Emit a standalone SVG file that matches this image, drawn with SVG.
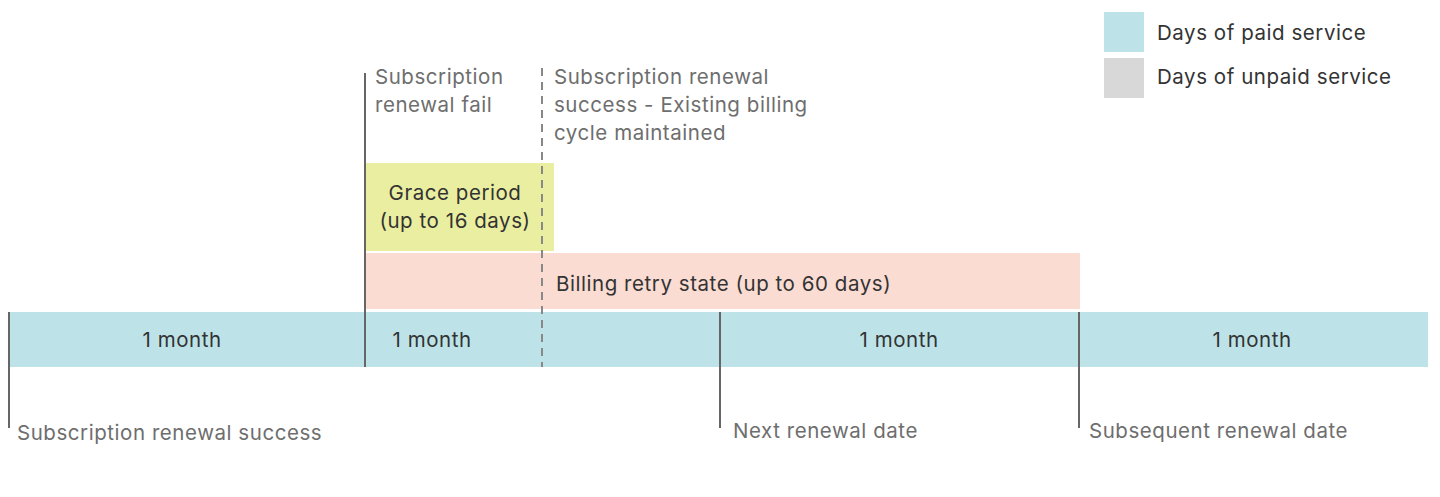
<svg xmlns="http://www.w3.org/2000/svg" width="1440" height="497" viewBox="0 0 1440 497">
<style>
.t{font-family:Inter,"Liberation Sans",Arial,sans-serif;font-size:20.5px;letter-spacing:0.55px;fill:#6e6e6e}
.d{font-family:Inter,"Liberation Sans",Arial,sans-serif;font-size:20.5px;letter-spacing:0.55px;fill:#333}
.ln{stroke:#666;stroke-width:2;fill:none}
.dash{stroke:#888;stroke-width:2;stroke-dasharray:8 6;fill:none}
</style>
<rect width="1440" height="497" fill="#fff"/>
<g id="legend">
<rect x="1104" y="12" width="40" height="40" fill="#bde3e9"/>
<text class="d" x="1157" y="40">Days of paid service</text>
<rect x="1104" y="58" width="40" height="40" fill="#d8d8d8"/>
<text class="d" x="1157" y="84">Days of unpaid service</text>
</g>
<g id="timeline">
<rect x="9" y="312" width="1419" height="55" fill="#bde3e9"/>
<text class="d" x="182" y="347" text-anchor="middle">1 month</text>
<text class="d" x="432" y="347" text-anchor="middle">1 month</text>
<text class="d" x="899" y="347" text-anchor="middle">1 month</text>
<text class="d" x="1252" y="347" text-anchor="middle">1 month</text>
</g>
<g id="grace">
<rect x="366" y="163" width="188" height="88" fill="#eaeea0"/>
<text class="d" x="455" y="200" text-anchor="middle">Grace period</text>
<text class="d" x="455" y="228" text-anchor="middle">(up to 16 days)</text>
</g>
<g id="retry">
<rect x="366" y="253" width="714" height="56" fill="#fbdcd3"/>
<text class="d" x="556" y="291">Billing retry state (up to 60 days)</text>
</g>
<g id="connectors">
<line class="ln" x1="9" y1="312" x2="9" y2="428"/>
<line class="ln" x1="365" y1="73" x2="365" y2="367"/>
<line class="dash" x1="542" y1="68" x2="542" y2="367"/>
<line class="ln" x1="720" y1="312" x2="720" y2="428"/>
<line class="ln" x1="1079" y1="312" x2="1079" y2="428"/>
</g>
<g id="labels">
<text class="t" x="17" y="440">Subscription renewal success</text>
<text class="t" x="375" y="84">Subscription</text>
<text class="t" x="375" y="112">renewal fail</text>
<text class="t" x="554" y="84">Subscription renewal</text>
<text class="t" x="554" y="112">success - Existing billing</text>
<text class="t" x="554" y="140">cycle maintained</text>
<text class="t" x="733" y="438">Next renewal date</text>
<text class="t" x="1089" y="438">Subsequent renewal date</text>
</g>
</svg>
